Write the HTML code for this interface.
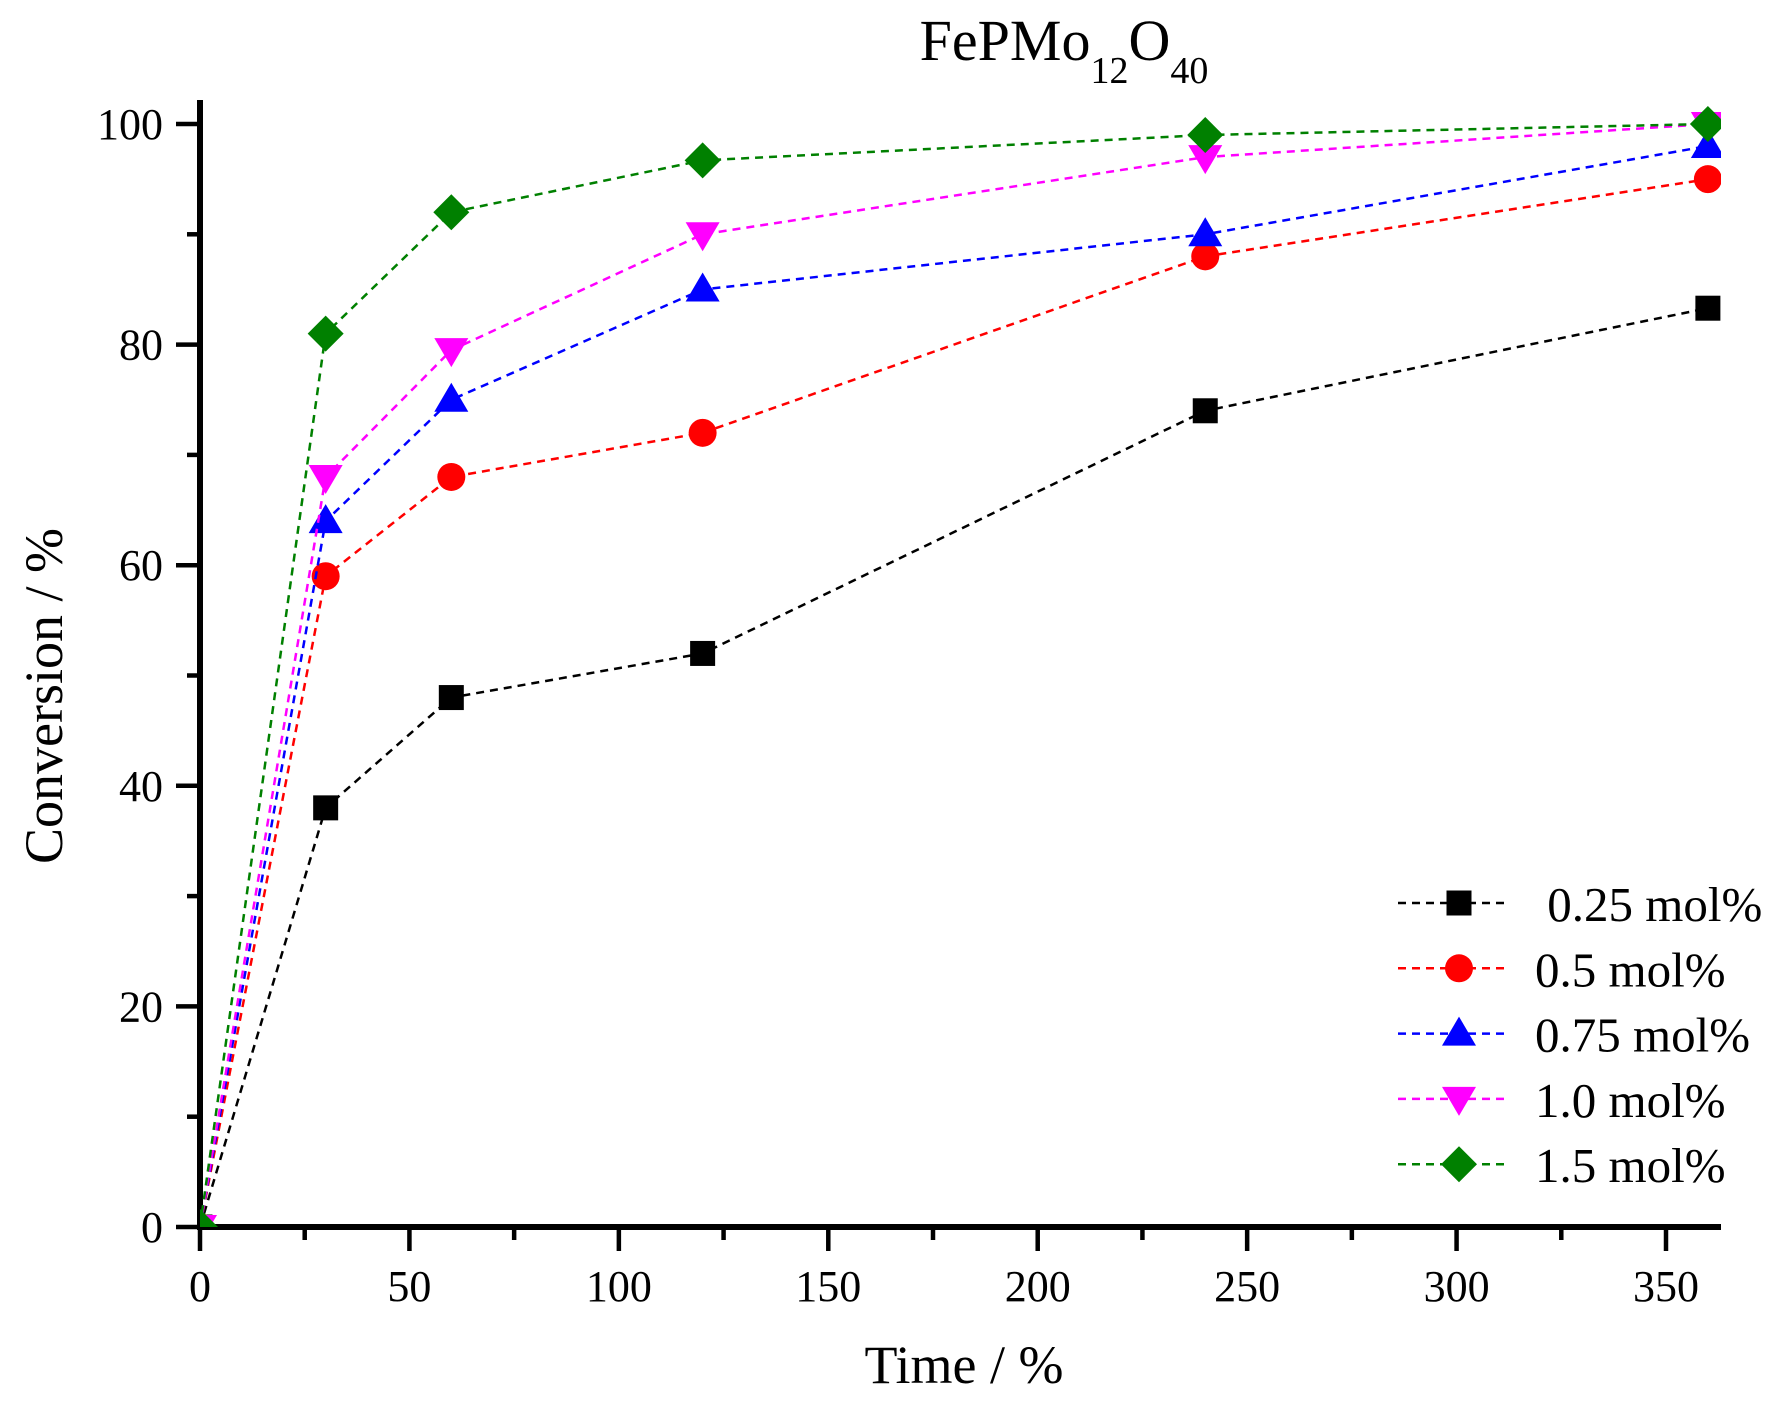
<!DOCTYPE html>
<html><head><meta charset="utf-8"><style>
html,body{margin:0;padding:0;background:#fff;}
svg{display:block;font-family:"Liberation Serif",serif;}
</style></head><body>
<svg id="chart" width="1789" height="1402" viewBox="0 0 1789 1402" xmlns="http://www.w3.org/2000/svg">
<defs><clipPath id="plotclip"><rect x="200" y="95" width="1521" height="1132"/></clipPath></defs>
<text x="1064" y="60" text-anchor="middle" font-size="58">FePMo<tspan font-size="38" dy="23">12</tspan><tspan dy="-23">O</tspan><tspan font-size="38" dy="23">40</tspan></text>
<g id="axes"></g>
<g id="series" clip-path="url(#plotclip)"></g>
<g id="legend"></g>
<text x="964" y="1383" text-anchor="middle" font-size="54">Time / %</text>
<text transform="translate(62,696) rotate(-90)" text-anchor="middle" font-size="54">Conversion / %</text>
</svg>
<script>
const times = [0, 30, 60, 120, 240, 360];
const s025 = [0, 38, 48, 52, 74, 83.3];
const s05 = [0, 59, 68, 72, 88, 95];
const s075 = [0, 64, 75, 85, 90, 98];
const s10 = [0, 68, 79.5, 90, 97, 100];
const s15 = [0, 81, 92, 96.7, 99, 100];
const seriesLabels = [" 0.25 mol%", "0.5 mol%", "0.75 mol%", "1.0 mol%", "1.5 mol%"];
const xTicks = [0, 50, 100, 150, 200, 250, 300, 350];
const yTicks = [0, 20, 40, 60, 80, 100];

const NS = "http://www.w3.org/2000/svg";
const X0 = 200, X350 = 1666, Y0 = 1227, Y100 = 124;
function xs(v){ return X0 + (X350 - X0) * v / 350; }
function ys(v){ return Y0 - (Y0 - Y100) * v / 100; }
function mk(tag, attrs, parent){ const e = document.createElementNS(NS, tag); for (const k in attrs) e.setAttribute(k, attrs[k]); parent.appendChild(e); return e; }

const axes = document.getElementById('axes');
const xAxis = mk('line', {x1: X0 - 3, y1: Y0, x2: 1721, y2: Y0, stroke: '#000', 'stroke-width': 6}, axes);


const yAxis = mk('line', {x1: X0, y1: 100, x2: X0, y2: Y0 + 3, stroke: '#000', 'stroke-width': 6}, axes);


for (let v = 0; v <= 360; v += 25) {
  const major = v % 50 === 0;
  const t = mk('line', {x1: xs(v), y1: Y0, x2: xs(v), y2: Y0 + (major ? 24 : 13), stroke: '#000', 'stroke-width': 4.5}, axes);
  
  
}
xTicks.forEach(v => {
  const t = mk('text', {x: xs(v), y: Y0 + 74, 'text-anchor': 'middle', 'font-size': 44}, axes);
  t.textContent = v;
  
  
});
for (let v = 0; v <= 100; v += 10) {
  const major = v % 20 === 0;
  const t = mk('line', {x1: X0, y1: ys(v), x2: X0 - (major ? 24 : 13), y2: ys(v), stroke: '#000', 'stroke-width': 4.5}, axes);
  
  
}
yTicks.forEach(v => {
  const t = mk('text', {x: 163, y: ys(v) + 15, 'text-anchor': 'end', 'font-size': 44}, axes);
  t.textContent = v;
  
  
});

const colors = ['#000000', '#ff0000', '#0000ff', '#ff00ff', '#008000'];
const shapes = ['square', 'circle', 'up', 'down', 'diamond'];
const allSeries = [s025, s05, s075, s10, s15];
function marker(shape, cx, cy, color, parent){
  let e;
  if (shape === 'square') e = mk('rect', {x: cx - 12.5, y: cy - 12.5, width: 25, height: 25, fill: color}, parent);
  else if (shape === 'circle') e = mk('circle', {cx: cx, cy: cy, r: 14, fill: color}, parent);
  else if (shape === 'up') e = mk('polygon', {points: `${cx},${cy-17} ${cx+17},${cy+12} ${cx-17},${cy+12}`, fill: color}, parent);
  else if (shape === 'down') e = mk('polygon', {points: `${cx-17},${cy-12} ${cx+17},${cy-12} ${cx},${cy+17}`, fill: color}, parent);
  else e = mk('polygon', {points: `${cx},${cy-18} ${cx+18},${cy} ${cx},${cy+18} ${cx-18},${cy}`, fill: color}, parent);
  return e;
}
const sg = document.getElementById('series');
allSeries.forEach((vals, i) => {
  const g = mk('g', {}, sg);
  
  
  const pl = mk('polyline', {points: vals.map((v, j) => xs(times[j]) + ',' + ys(v)).join(' '), fill: 'none', stroke: colors[i], 'stroke-width': 2.5, 'stroke-dasharray': '8,6'}, g);
  
  
  vals.forEach((v, j) => {
    const m = marker(shapes[i], xs(times[j]), ys(v), colors[i], g);
    
    
  });
});
const lg = document.getElementById('legend');


seriesLabels.forEach((lab, i) => {
  const cy = 903 + i * 65.3;
  const g = mk('g', {}, lg);
  
  
  mk('line', {x1: 1398, y1: cy, x2: 1508, y2: cy, stroke: colors[i], 'stroke-width': 2.5, 'stroke-dasharray': '8,6'}, g);
  marker(shapes[i], 1459, cy, colors[i], g);
  const t = mk('text', {x: 1535, y: cy + 18, 'font-size': 49}, g);
  t.setAttribute('xml:space', 'preserve');
  t.style.whiteSpace = 'pre';
  t.textContent = lab;
});
</script>
</body></html>
